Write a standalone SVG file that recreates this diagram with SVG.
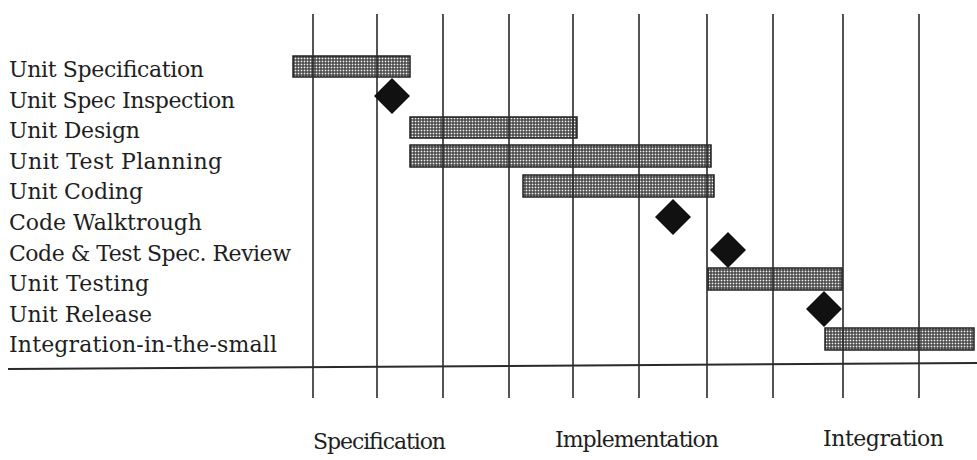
<svg xmlns="http://www.w3.org/2000/svg" width="977" height="460" viewBox="0 0 977 460">
  <defs>
    <pattern id="screen" patternUnits="userSpaceOnUse" width="3" height="3">
      <rect width="3" height="3" fill="#333"/>
      <rect x="0.6" y="0.6" width="1.8" height="1.8" fill="#f2f2f2"/>
    </pattern>
    <style>
      .label { font-family: "DejaVu Serif", "Liberation Serif", serif; font-size: 22px; fill: #1e1e1e; }
      .grid { stroke: #2a2a2a; stroke-width: 1.6; fill: none; }
      .axis { stroke: #2a2a2a; stroke-width: 2; }
      .bar { fill: url(#screen); stroke: #222; stroke-width: 1.5; }
      .milestone { fill: #111; }
    </style>
  </defs>
  <rect width="977" height="460" fill="#fff"/>

  <!-- activity bars -->
  <g id="task-unit-specification"><rect class="bar" x="293" y="56" width="117" height="21"/></g>
  <g id="task-unit-design"><rect class="bar" x="410" y="117" width="167" height="21"/></g>
  <g id="task-unit-test-planning"><rect class="bar" x="410" y="145" width="301" height="22"/></g>
  <g id="task-unit-coding"><rect class="bar" x="523" y="175" width="191" height="22"/></g>
  <g id="task-unit-testing"><rect class="bar" x="708" y="268" width="134" height="22"/></g>
  <g id="task-integration"><rect class="bar" x="825" y="328" width="149" height="22"/></g>

  <!-- time grid, drawn over the bars -->
  <g id="grid" class="grid">
    <line x1="313" y1="14" x2="313" y2="398"/>
    <line x1="377" y1="14" x2="377" y2="398"/>
    <line x1="443" y1="14" x2="443" y2="398"/>
    <line x1="509" y1="14" x2="509" y2="398"/>
    <line x1="573" y1="14" x2="573" y2="398"/>
    <line x1="639" y1="14" x2="639" y2="398"/>
    <line x1="707" y1="14" x2="707" y2="398"/>
    <line x1="773" y1="14" x2="773" y2="398"/>
    <line x1="843" y1="14" x2="843" y2="398"/>
    <line x1="919" y1="14" x2="919" y2="398"/>
  </g>
  <line class="axis" x1="8" y1="369" x2="977" y2="363"/>

  <!-- milestones -->
  <g id="ms-unit-spec-inspection"><path class="milestone" d="M392 78 L410 96 L392 114 L374 96 Z"/></g>
  <g id="ms-code-walkthrough"><path class="milestone" d="M673 199 L691 217 L673 235 L655 217 Z"/></g>
  <g id="ms-code-test-review"><path class="milestone" d="M728 232 L746 250 L728 268 L710 250 Z"/></g>
  <g id="ms-unit-release"><path class="milestone" d="M824 291 L842 309 L824 327 L806 309 Z"/></g>

  <!-- task labels -->
  <g id="labels" class="label">
    <text x="9" y="77" textLength="195">Unit Specification</text>
    <text x="9" y="107.6" textLength="226">Unit Spec Inspection</text>
    <text x="9" y="138.2" textLength="131">Unit Design</text>
    <text x="9" y="168.8" textLength="213">Unit Test Planning</text>
    <text x="9" y="199.4" textLength="134">Unit Coding</text>
    <text x="9" y="230" textLength="193">Code Walktrough</text>
    <text x="9" y="260.6" textLength="282">Code &amp; Test Spec. Review</text>
    <text x="9" y="291.2" textLength="140">Unit Testing</text>
    <text x="9" y="321.8" textLength="143">Unit Release</text>
    <text x="9" y="352.4" textLength="268">Integration-in-the-small</text>
  </g>

  <!-- phases -->
  <g id="phases" class="label">
    <text x="313" y="449" textLength="133">Specification</text>
    <text x="555" y="447" textLength="164">Implementation</text>
    <text x="823" y="446" textLength="121">Integration</text>
  </g>
</svg>
